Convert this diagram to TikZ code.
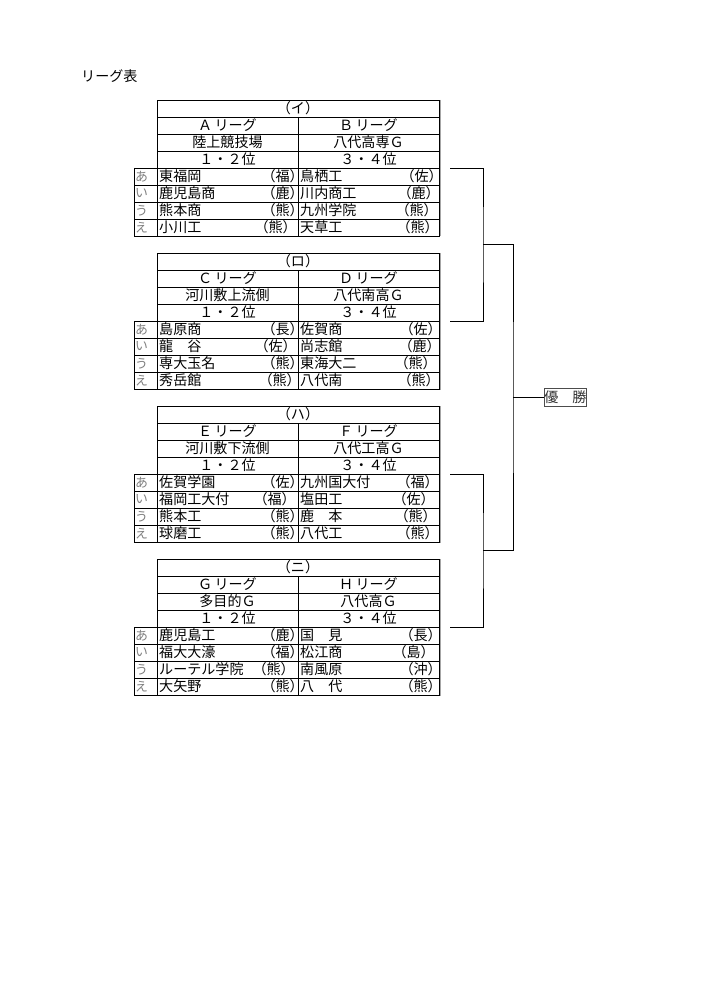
\documentclass[tikz,border=0pt]{standalone}
\usepackage{fontspec}
\setmainfont{Noto Sans CJK JP}
\usetikzlibrary{positioning}

\tikzset{
  rule/.style={line width=0.6pt},
  team/.style={anchor=west, inner sep=0pt},
  pref/.style={anchor=east, inner sep=0pt},
  kana/.style={anchor=west, inner sep=0pt, text=black!50, font=\fontsize{11}{11}\selectfont},
  head/.style={inner sep=0pt},
}

\begin{document}
\begin{tikzpicture}[x=0.3mm, y=-0.3mm, font=\fontsize{12}{12}\selectfont]
  \path[fill=white] (0,0) rectangle (700,991);
  % Title
  \node[anchor=west, inner sep=0pt] (title) at (81,76.5) {リーグ表};
  % League tables (イ) to (ニ)
  \foreach \y/\hd/\la/\va/\lb/\vb/\teams in {
    100/イ/Ａ/陸上競技場/Ｂ/八代高専Ｇ/{東福岡/（福）/0/鳥栖工/（佐）/0, 鹿児島商/（鹿）/0/川内商工/（鹿）/3, 熊本商/（熊）/0/九州学院/（熊）/5, 小川工/（熊）/7/天草工/（熊）/4},
    253/ロ/Ｃ/河川敷上流側/Ｄ/八代南高Ｇ/{島原商/（長）/0/佐賀商/（佐）/1, 龍　谷/（佐）/7/尚志館/（鹿）/2, 専大玉名/（熊）/0/東海大二/（熊）/6, 秀岳館/（熊）/3/八代南/（熊）/3},
    406/ハ/Ｅ/河川敷下流側/Ｆ/八代工高Ｇ/{佐賀学園/（佐）/0/九州国大付/（福）/4, 福岡工大付/（福）/8/塩田工/（佐）/8, 熊本工/（熊）/0/鹿　本/（熊）/6, 球磨工/（熊）/0/八代工/（熊）/4},
    559/ニ/Ｇ/多目的Ｇ/Ｈ/八代高Ｇ/{鹿児島工/（鹿）/0/国　見/（長）/1, 福大大濠/（福）/0/松江商/（島）/8, ルーテル学院/（熊）/9/南風原/（沖）/1, 大矢野/（熊）/0/八　代/（熊）/1}}{
    % grid
    \draw[rule] (157,\y) rectangle (439,\y+136);
    \foreach \k in {17,34,51}
      \draw[rule] (157,\y+\k) -- (439,\y+\k);
    \foreach \k in {68,85,102,119,136}
      \draw[rule] (134,\y+\k) -- (439,\y+\k);
    \draw[rule] (134,\y+68) -- (134,\y+136);
    \draw[rule] (298,\y+17) -- (298,\y+136);
    \draw[black!35, line width=0.6pt] (440.6,\y) -- (440.6,\y+136.5);
    % headers
    \node[head] (hd\y) at (298,\y+8.5) {（\hd）};
    \node[head] (la\y) at (227.5,\y+25.5) {\la\,リーグ};
    \node[head] (va\y) at (227.5,\y+42.5) {\va};
    \node[head] (ra\y) at (227.5,\y+59.5) {１・２位};
    \node[head] (lb\y) at (368.5,\y+25.5) {\lb\,リーグ};
    \node[head] (vb\y) at (368.5,\y+42.5) {\vb};
    \node[head] (rb\y) at (368.5,\y+59.5) {３・４位};
    % row marks
    \foreach \c [count=\i from 0] in {あ,い,う,え}
      \node[kana] (k\y-\i) at (135,\y+76.5+17*\i) {\c};
    % teams
    \foreach \sa/\pa/\da/\sb/\pb/\db [count=\i from 0] in \teams {
      \node[team] (sa\y-\i) at (159,\y+76.5+17*\i) {\sa};
      \node[pref, xshift=-\da*0.3mm] (pa\y-\i) at (304,\y+76.5+17*\i) {\pa};
      \node[team] (sb\y-\i) at (300,\y+76.5+17*\i) {\sb};
      \node[pref, xshift=-\db*0.3mm] (pb\y-\i) at (443,\y+76.5+17*\i) {\pb};
    }
  }
  % Bracket
  \coordinate (e1) at (450,168);
  \coordinate (e2) at (450,321);
  \coordinate (e3) at (450,474);
  \coordinate (e4) at (450,627);
  \coordinate (j12) at (483,244.5);
  \coordinate (j34) at (483,550.5);
  \coordinate (fin) at (513,397.5);
  \node[draw=black!70, line width=0.6pt, anchor=west, inner xsep=0pt, inner ysep=0pt,
        minimum height=5.4mm, text=black!80] (win) at (544,397.5) {優　勝};
  \draw[rule] (e1) -| (j12) |- (e2);
  \draw[rule] (e3) -| (j34) |- (e4);
  \draw[rule] (j12) -| (fin) |- (j34);
  \draw[rule] (fin) -- (win.west);
\end{tikzpicture}
\end{document}
